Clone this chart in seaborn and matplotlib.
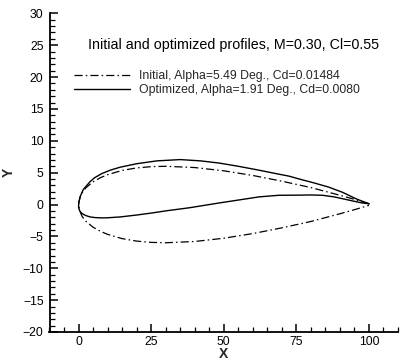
import matplotlib
matplotlib.use("Agg")
import matplotlib.pyplot as plt
from matplotlib.ticker import MultipleLocator
import numpy as np
import pandas as pd
import seaborn as sns

# Initial profile, traced from trailing edge over the upper side, around the nose, back along the lower side
init_x_upper = [100, 95, 90, 80, 70, 60, 50, 40, 30, 25, 20, 15, 10, 7.5, 5, 2.5, 1.25, 0.5, 0]
init_y_upper = [0.13, 0.81, 1.45, 2.66, 3.66, 4.56, 5.29, 5.80, 6.00, 5.94, 5.74, 5.35, 4.68, 4.20, 3.56, 2.62, 1.89, 1.10, 0]
init_x_lower = [0, 0.5, 1.25, 2.5, 5, 7.5, 10, 15, 20, 25, 30, 40, 50, 60, 70, 80, 90, 95, 100]
init_y_lower = [0, -1.10, -1.89, -2.62, -3.56, -4.20, -4.68, -5.35, -5.74, -5.94, -6.00, -5.80, -5.29, -4.56, -3.66, -2.66, -1.45, -0.81, -0.13]

# Optimized profile
opt_x_upper = [100, 97.5, 95.3, 91, 86, 81, 76, 72.5, 68, 62, 55, 48.5, 42, 35, 27, 20, 14.3, 11, 8, 5.5, 4, 1.7, 0.6, 0.1, 0]
opt_y_upper = [0.12, 0.55, 0.95, 1.9, 2.75, 3.4, 4.0, 4.45, 4.85, 5.4, 6.0, 6.5, 6.85, 7.05, 6.85, 6.4, 5.85, 5.4, 4.85, 4.2, 3.6, 2.4, 1.3, 0.4, -0.4]
opt_x_lower = [0, 0.3, 1, 2.3, 4, 5.7, 8, 10, 14.3, 20, 25.7, 30, 38.3, 48.5, 55, 62.2, 69, 75.9, 80, 84, 88, 92, 95, 97.6, 100]
opt_y_lower = [-0.4, -0.9, -1.35, -1.7, -1.95, -2.05, -2.1, -2.08, -1.95, -1.65, -1.3, -1.0, -0.5, 0.25, 0.7, 1.2, 1.45, 1.47, 1.5, 1.45, 1.2, 0.8, 0.5, 0.25, 0.12]

title_text = "Initial and optimized profiles, M=0.30, Cl=0.55"
label_initial = "Initial, Alpha=5.49 Deg., Cd=0.01484"
label_optimized = "Optimized, Alpha=1.91 Deg., Cd=0.0080"

x_ticks = [0, 25, 50, 75, 100]
y_ticks = [-20, -15, -10, -5, 0, 5, 10, 15, 20, 25, 30]

sns.set_theme(style="white")
plt.rcParams["font.family"] = ["Liberation Sans", "DejaVu Sans"]

init_df = pd.DataFrame({"X": init_x_upper + init_x_lower[1:],
                        "Y": init_y_upper + init_y_lower[1:],
                        "order": np.arange(len(init_x_upper) + len(init_x_lower) - 1)})
opt_df = pd.DataFrame({"X": opt_x_upper + opt_x_lower[1:],
                       "Y": opt_y_upper + opt_y_lower[1:],
                       "order": np.arange(len(opt_x_upper) + len(opt_x_lower) - 1)})

fig = plt.figure(figsize=(4.0, 3.64), dpi=100)
ax = fig.add_axes([49.5 / 400, 1 - 332 / 364, (398 - 49.5) / 400, (332 - 13.3) / 364])

sns.lineplot(data=init_df, x="X", y="Y", sort=False, estimator=None, color="black",
             linewidth=0.9, ax=ax, label=label_initial)
sns.lineplot(data=opt_df, x="X", y="Y", sort=False, estimator=None, color="black",
             linewidth=1.0, ax=ax, label=label_optimized)
ax.lines[0].set_linestyle((0, (6.5, 2.5, 1.2, 2.5)))

ax.set_xlim(-10, 110)
ax.set_ylim(-20, 30)
ax.set_xticks(x_ticks)
ax.set_yticks(y_ticks)
ax.xaxis.set_minor_locator(MultipleLocator(5))
ax.yaxis.set_minor_locator(MultipleLocator(1))

for side in ("top", "right"):
    ax.spines[side].set_visible(False)
for side in ("left", "bottom"):
    ax.spines[side].set_color("black")
    ax.spines[side].set_linewidth(1.3)

ax.tick_params(which="major", direction="in", length=6, width=1.1, colors="black",
               labelsize=8.8, left=True, bottom=True)
ax.tick_params(which="minor", direction="in", length=3.5, width=0.9, colors="black",
               left=True, bottom=True)
ax.tick_params(axis="x", which="major", pad=3.0)
ax.tick_params(axis="y", which="major", pad=4.3)

ax.set_xlabel("X", fontsize=10, fontweight="bold", labelpad=-0.5)
ax.set_ylabel("Y", fontsize=10, fontweight="bold", labelpad=5)

fig.text(233 / 400, 1 - 45 / 364, title_text, fontsize=10.3, ha="center", va="center", color="black")

leg = ax.legend(loc="upper left", bbox_to_anchor=(74 / 400, 1 - 70 / 364),
                bbox_transform=fig.transFigure, frameon=False, fontsize=8.8,
                handlelength=4.6, handletextpad=0.75, borderpad=0, borderaxespad=0,
                labelspacing=0.15)

fig.savefig("out.png", dpi=100, facecolor="white")
